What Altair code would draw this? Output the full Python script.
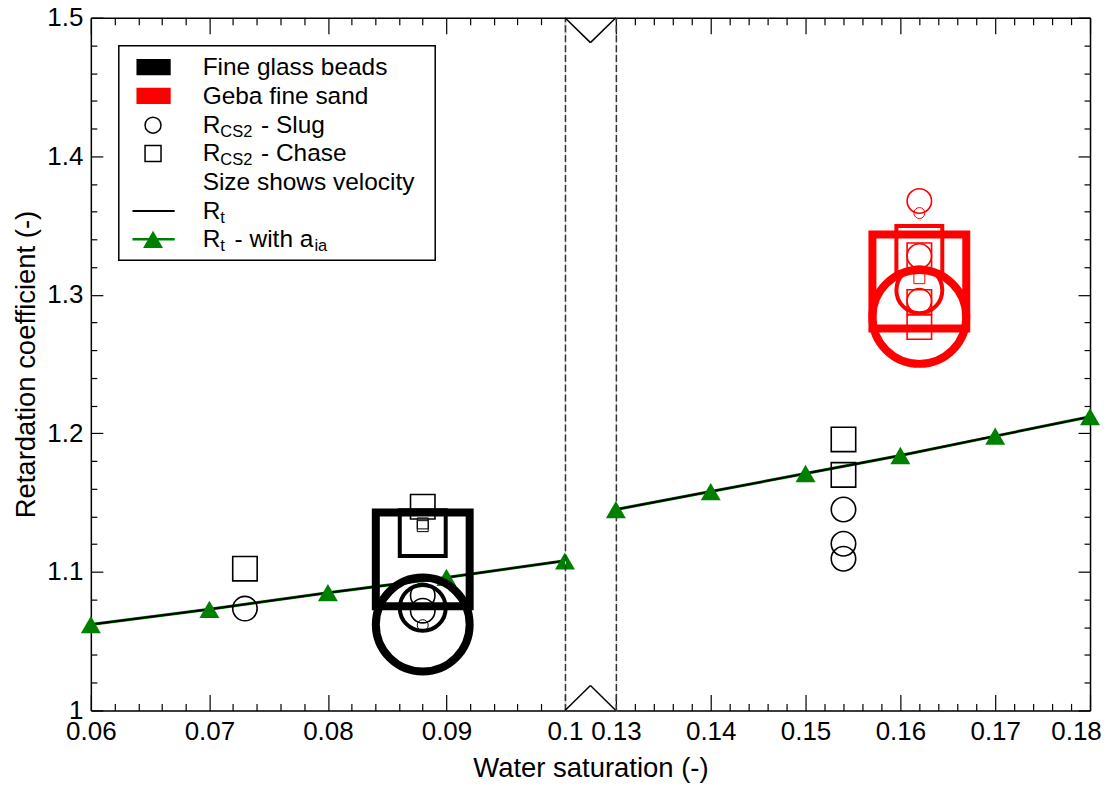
import altair as alt
import pandas as pd

FONT = "Liberation Sans"

# ---------------- data ----------------
# Rt (black line) and Rt with a_ia (green line with triangles)
rt_sat = [0.06, 0.07, 0.08, 0.09, 0.10, 0.13, 0.14, 0.15, 0.16, 0.17, 0.18]
rt_val = [1.062, 1.073, 1.085, 1.096, 1.108, 1.145, 1.158, 1.171, 1.184, 1.198, 1.212]
rt_aia_val = [1.062, 1.073, 1.085, 1.096, 1.108, 1.145, 1.158, 1.171, 1.184, 1.198, 1.212]

# CS2 retardation measurements (size level shows velocity)
cs2_material = (["Fine glass beads"] * 17) + (["Geba fine sand"] * 12)
cs2_test = ["Slug", "Chase",
            "Slug", "Slug", "Slug", "Slug", "Slug", "Chase", "Chase", "Chase", "Chase", "Chase",
            "Slug", "Slug", "Slug", "Chase", "Chase",
            "Slug", "Slug", "Slug", "Slug", "Slug", "Slug",
            "Chase", "Chase", "Chase", "Chase", "Chase", "Chase"]
cs2_velocity = ["2", "2",
                "4", "3", "2", "2", "1", "4", "3", "2", "1", "1",
                "2", "2", "2", "2", "2",
                "2", "1", "2", "2", "3", "4",
                "4", "3", "2", "2", "2", "1"]
cs2_sat = [0.073, 0.073,
           0.088, 0.088, 0.088, 0.088, 0.088, 0.088, 0.088, 0.088, 0.088, 0.088,
           0.154, 0.154, 0.154, 0.154, 0.154,
           0.162, 0.162, 0.162, 0.162, 0.162, 0.162,
           0.162, 0.162, 0.162, 0.162, 0.162, 0.162]
cs2_R = [1.0735, 1.1023,
         1.062, 1.074, 1.083, 1.072, 1.0615, 1.109, 1.128, 1.147, 1.135, 1.133,
         1.145, 1.1203, 1.1095, 1.1956, 1.170,
         1.3677, 1.359, 1.328, 1.2956, 1.3033, 1.284,
         1.3096, 1.333, 1.3285, 1.2948, 1.2767, 1.312]

x_ticks_left = [0.06, 0.07, 0.08, 0.09, 0.10]
x_ticks_right = [0.13, 0.14, 0.15, 0.16, 0.17, 0.18]
y_ticks = [1.0, 1.1, 1.2, 1.3, 1.4, 1.5]

legend_labels = ["Fine glass beads", "Geba fine sand", "Size shows velocity"]
x_title = "Water saturation (-)"
y_title = "Retardation coefficient (-)"


def minor(majors, n=5):
    out = []
    for a, b in zip(majors[:-1], majors[1:]):
        for k in range(1, n):
            out.append(round(a + (b - a) * k / n, 4))
    return out


x_minor_left = minor(x_ticks_left)
x_minor_right = minor(x_ticks_right)
y_minor = minor(y_ticks)

df_rt = pd.DataFrame({"sat": rt_sat, "Rt": rt_val, "Rt_aia": rt_aia_val})
df_cs = pd.DataFrame({"material": cs2_material, "test": cs2_test,
                      "vel": cs2_velocity, "sat": cs2_sat, "R": cs2_R})
one = pd.DataFrame({"k": [0]})

# ---------------- layout ----------------
H = 694
WL, WG, WR = 475, 51, 475
MAJ_X, MIN_X = 16, 7
MAJ_Y, MIN_Y = 12, 6
GREEN = "#008000"
DASH_COLOR = "#333333"
VEL_LEVELS = ["1", "2", "3", "4"]

ys = alt.Scale(domain=[1.0, 1.5], nice=False, zero=False)


def tick_axis(orient, values, size, offset):
    return alt.Axis(orient=orient, values=values, tickSize=size, tickWidth=1.2,
                    tickColor="black", labels=False, domain=False, title=None,
                    grid=False, offset=offset, ticks=True, minExtent=0)


def dashed_edge(orient):
    return alt.Axis(orient=orient, domain=True, domainDash=[7, 3],
                    domainColor=DASH_COLOR, domainWidth=1.5, ticks=False,
                    labels=False, title=None, grid=False, minExtent=0)


def blank(df, x, y):
    return alt.Chart(df).mark_point(opacity=0).encode(x=x, y=y)


def panel(side):
    if side == "L":
        xs = alt.Scale(domain=[0.06, 0.10], nice=False, zero=False)
        W = WL
        rt = df_rt[df_rt.sat <= 0.1001]
        cs = df_cs[df_cs.sat <= 0.1001]
        majors, minors = x_ticks_left, x_minor_left
        main_x = alt.Axis(orient="bottom", values=majors, format=".2~f", ticks=False,
                          domain=True, domainColor="black", domainWidth=1.5,
                          labelFontSize=26, labelPadding=8, labelFlush=False,
                          labelColor="black", title=None, grid=False)
        main_y = alt.Axis(orient="left", values=y_ticks, format=".1~f", ticks=False,
                          domain=True, domainColor="black", domainWidth=1.5,
                          labelFontSize=26, labelPadding=8, labelColor="black",
                          title=y_title, titleFontSize=27.5, titleFontWeight="normal",
                          titleColor="black", titlePadding=6, grid=False)
        yt_orient, yt_off = "right", -W
        edge_y = None
    else:
        xs = alt.Scale(domain=[0.13, 0.18], nice=False, zero=False)
        W = WR
        rt = df_rt[df_rt.sat >= 0.1299]
        cs = df_cs[df_cs.sat >= 0.1299]
        majors, minors = x_ticks_right, x_minor_right
        main_x = alt.Axis(orient="bottom", values=majors, format=".2~f", ticks=False,
                          domain=True, domainColor="black", domainWidth=1.5,
                          labelFontSize=26, labelPadding=8, labelFlush=False,
                          labelColor="black", title=None, grid=False,
                          labelOffset={"condition": {"test": "datum.value > 0.175",
                                                     "value": -14},
                                       "value": 0})
        main_y = alt.Axis(orient="right", ticks=False, labels=False, domain=True,
                          domainColor="black", domainWidth=1.5, title=None,
                          grid=False, minExtent=0)
        yt_orient, yt_off = "left", -W
        edge_y = dashed_edge("left")

    X = lambda axis: alt.X("sat:Q", scale=xs, axis=axis)
    Y = lambda f, axis: alt.Y(f + ":Q", scale=ys, axis=axis)

    green_line = alt.Chart(rt).mark_line(color=GREEN, strokeWidth=3).encode(
        x=X(main_x), y=Y("Rt_aia", main_y))
    black_line = alt.Chart(rt).mark_line(color="black", strokeWidth=2).encode(
        x=X(None), y=Y("Rt", None))
    tri = alt.Chart(rt).mark_point(shape="triangle-up", filled=True, color=GREEN,
                                   size=400, opacity=1).encode(
        x=X(None), y=Y("Rt_aia", None))
    marks = alt.Chart(cs).mark_point(filled=False, opacity=1).encode(
        x=X(None), y=Y("R", None),
        shape=alt.Shape("test:N", scale=alt.Scale(domain=["Slug", "Chase"],
                                                  range=["circle", "square"]), legend=None),
        color=alt.Color("material:N", scale=alt.Scale(
            domain=["Fine glass beads", "Geba fine sand"], range=["#000000", "#ff0000"]),
            legend=None),
        size=alt.Size("vel:N", scale=alt.Scale(type="ordinal", domain=VEL_LEVELS,
                                               range=[121, 600, 2116, 8836]), legend=None),
        strokeWidth=alt.StrokeWidth("vel:N", scale=alt.Scale(type="ordinal",
                                                             domain=VEL_LEVELS,
                                                             range=[1, 1.6, 4, 8]),
                                    legend=None),
    )

    # inward ticks: bottom & inner-left/right via offset axes
    t1 = blank(rt, X(tick_axis("top", majors, MAJ_X, -H)),
               Y("Rt", tick_axis(yt_orient, y_ticks, MAJ_Y, yt_off)))
    t2 = blank(rt, X(tick_axis("top", minors, MIN_X, -H)),
               Y("Rt", tick_axis(yt_orient, y_minor, MIN_Y, yt_off)))
    top_major = alt.Axis(orient="bottom", values=majors, tickSize=MAJ_X, tickWidth=1.2,
                         tickColor="black", labels=False, domain=True,
                         domainColor="black", domainWidth=1.5, title=None, grid=False,
                         offset=-H, minExtent=0)
    t3 = blank(rt, X(top_major), Y("Rt", edge_y))
    t4 = blank(rt, X(tick_axis("bottom", minors, MIN_X, -H)), Y("Rt", None))

    layers = [green_line, black_line, tri, marks, t1, t2, t3, t4]

    if side == "L":
        def ltext(s, x, y, size=24.5):
            return alt.Chart(one).mark_text(text=s, align="left", baseline="alphabetic",
                                            fontSize=size, font=FONT, color="black").encode(
                x=alt.value(x), y=alt.value(y))

        rows = [49.5, 78.3, 107.7, 136.0, 165.0, 193.7, 222.0]
        tx = 112
        sub_x = tx + 17.7
        leg = [
            alt.Chart(one).mark_rect(fill="white", stroke="black", strokeWidth=1.5).encode(
                x=alt.value(28), x2=alt.value(345), y=alt.value(28), y2=alt.value(243)),
            alt.Chart(one).mark_rect(color="black").encode(
                x=alt.value(45.7), x2=alt.value(80), y=alt.value(rows[0] - 8.2),
                y2=alt.value(rows[0] + 8.2)),
            alt.Chart(one).mark_rect(color="#ff0000").encode(
                x=alt.value(45.7), x2=alt.value(80), y=alt.value(rows[1] - 8.2),
                y2=alt.value(rows[1] + 8.2)),
            alt.Chart(one).mark_point(shape="circle", filled=False, color="black",
                                      size=256, strokeWidth=1.5, opacity=1).encode(
                x=alt.value(62.3), y=alt.value(rows[2])),
            alt.Chart(one).mark_point(shape="square", filled=False, color="black",
                                      size=256, strokeWidth=1.5, opacity=1).encode(
                x=alt.value(62.3), y=alt.value(rows[3])),
            alt.Chart(one).mark_rule(color="black", strokeWidth=2).encode(
                x=alt.value(41.7), x2=alt.value(84), y=alt.value(rows[5])),
            alt.Chart(one).mark_rule(color=GREEN, strokeWidth=2.5).encode(
                x=alt.value(41.7), x2=alt.value(84), y=alt.value(rows[6])),
            alt.Chart(one).mark_point(shape="triangle-up", filled=True, color=GREEN,
                                      size=400, opacity=1).encode(
                x=alt.value(62.3), y=alt.value(rows[6])),
            ltext(legend_labels[0], tx, rows[0] + 8),
            ltext(legend_labels[1], tx, rows[1] + 8),
            ltext("R", tx, rows[2] + 8),
            ltext("CS2", sub_x, rows[2] + 11.5, 16.5),
            ltext("- Slug", 170.5, rows[2] + 8),
            ltext("R", tx, rows[3] + 8),
            ltext("CS2", sub_x, rows[3] + 11.5, 16.5),
            ltext("- Chase", 170.5, rows[3] + 8),
            ltext(legend_labels[2], tx, rows[4] + 8),
            ltext("R", tx, rows[5] + 8),
            ltext("t", sub_x, rows[5] + 11.5, 16.5),
            ltext("R", tx, rows[6] + 8),
            ltext("t", sub_x, rows[6] + 11.5, 16.5),
            ltext("- with a", 144, rows[6] + 8),
            ltext("ia", 224, rows[6] + 11.5, 16.5),
        ]
        layers += leg

    return alt.layer(*layers).resolve_axis(x="independent", y="independent").properties(
        width=W, height=H)


def gap_panel():
    xs = alt.Scale(domain=[0.10, 0.13], nice=False, zero=False)
    g = df_rt[(df_rt.sat >= 0.0999) & (df_rt.sat <= 0.1301)]
    bottom = alt.Axis(orient="bottom", ticks=False, labels=False, domain=True,
                      domainColor="black", domainWidth=1.5, title=x_title,
                      titleFontSize=27.5, titleFontWeight="normal", titleColor="black",
                      titlePadding=44, grid=False, minExtent=0)
    top = alt.Axis(orient="top", ticks=False, labels=False, domain=True,
                   domainColor="black", domainWidth=1.5, title=None, grid=False,
                   minExtent=0)
    g1 = blank(g, alt.X("sat:Q", scale=xs, axis=bottom),
               alt.Y("Rt:Q", scale=ys, axis=dashed_edge("left")))
    g2 = blank(g, alt.X("sat:Q", scale=xs, axis=top),
               alt.Y("Rt:Q", scale=ys, axis=None))
    d = 25
    mid = WG / 2
    vs = []
    for (xa, ya, xb, yb) in [(0, 0, mid, d), (mid, d, WG, 0),
                             (0, H, mid, H - d), (mid, H - d, WG, H)]:
        vs.append(alt.Chart(one).mark_rule(color="black", strokeWidth=1.5).encode(
            x=alt.value(xa), y=alt.value(ya), x2=alt.value(xb), y2=alt.value(yb)))
    return alt.layer(g1, g2, *vs).resolve_axis(x="independent", y="independent").properties(
        width=WG, height=H)


chart = alt.hconcat(panel("L"), gap_panel(), panel("R"), spacing=0, bounds="flush").properties(
    padding={"left": 4, "top": -5, "right": 0, "bottom": 0}
).configure_view(stroke=None).configure_axis(
    labelFont=FONT, titleFont=FONT, grid=False
).configure(background="white")

chart.save("out.html", embed_options={"renderer": "svg", "actions": False})
